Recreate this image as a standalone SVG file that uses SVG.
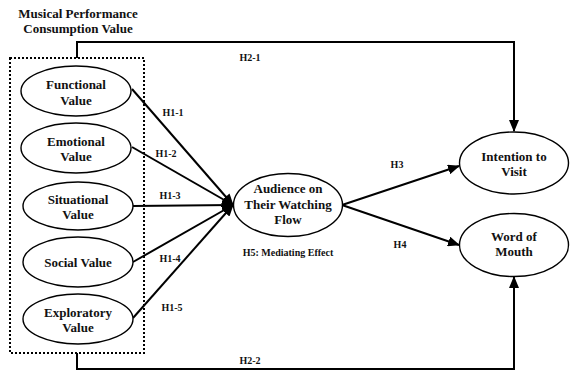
<svg xmlns="http://www.w3.org/2000/svg" width="570" height="371" viewBox="0 0 570 371">
<defs>
<marker id="arr" markerUnits="userSpaceOnUse" markerWidth="12" markerHeight="10" refX="11" refY="5" orient="auto">
<path d="M0,0 L12,5 L0,10 Z" fill="#000"/>
</marker>
<style>
text{font-family:"Liberation Serif","Times New Roman",serif;font-weight:bold;fill:#111;text-anchor:middle}
.n{font-size:13px}
.l{font-size:10px}
ellipse{fill:#fff;stroke:#000;stroke-width:1.4}
.c{fill:none;stroke:#000;stroke-width:2}
.a{marker-end:url(#arr)}
</style>
</defs>
<rect width="570" height="371" fill="#fff"/>
<g id="group-box">
<rect x="10" y="58" width="134" height="295" fill="none" stroke="#000" stroke-width="2" stroke-dasharray="2,2"/>
<text class="n" x="78" y="18">Musical Performance</text>
<text class="n" x="78" y="33">Consumption Value</text>
</g>
<g id="connectors">
<path class="c a" d="M77,58 V42 H514 V131"/>
<path class="c a" d="M77,353 V369 H514 V277"/>
<path class="c a" d="M132,89 L233,205"/>
<path class="c a" d="M132,147 L233,205"/>
<path class="c a" d="M133,206 L233,205"/>
<path class="c a" d="M133,262 L233,205"/>
<path class="c a" d="M133,318 L233,205"/>
<path class="c a" d="M342,205 L459,166"/>
<path class="c a" d="M342,205 L459,245"/>
<text class="l" x="173" y="115.5">H1-1</text>
<text class="l" x="166" y="156.5">H1-2</text>
<text class="l" x="170" y="198.5">H1-3</text>
<text class="l" x="170" y="261.5">H1-4</text>
<text class="l" x="172" y="310.5">H1-5</text>
<text class="l" x="397" y="167.5">H3</text>
<text class="l" x="400" y="247.5">H4</text>
<text class="l" x="250" y="60.5">H2-1</text>
<text class="l" x="250" y="363.5">H2-2</text>
<text class="l" x="288" y="255.5">H5: Mediating Effect</text>
</g>
<g id="functional">
<ellipse cx="76" cy="91" rx="55" ry="25"/>
<text class="n" x="76" y="88.5">Functional</text>
<text class="n" x="76" y="104.5">Value</text>
</g>
<g id="emotional">
<ellipse cx="76" cy="148" rx="55" ry="25"/>
<text class="n" x="76" y="145.5">Emotional</text>
<text class="n" x="76" y="160.5">Value</text>
</g>
<g id="situational">
<ellipse cx="78" cy="206" rx="55" ry="24"/>
<text class="n" x="78" y="203.5">Situational</text>
<text class="n" x="78" y="218.5">Value</text>
</g>
<g id="social">
<ellipse cx="78" cy="262" rx="55" ry="25"/>
<text class="n" x="78" y="266.5">Social Value</text>
</g>
<g id="exploratory">
<ellipse cx="78" cy="319" rx="55" ry="25"/>
<text class="n" x="78" y="316.5">Exploratory</text>
<text class="n" x="78" y="331.5">Value</text>
</g>
<g id="flow">
<ellipse cx="288" cy="205" rx="54.5" ry="31.5"/>
<text class="n" x="288" y="192.5">Audience on</text>
<text class="n" x="288" y="208.5">Their Watching</text>
<text class="n" x="288" y="223.5">Flow</text>
</g>
<g id="intention">
<ellipse cx="514" cy="163" rx="54.5" ry="31"/>
<text class="n" x="514" y="161">Intention to</text>
<text class="n" x="514" y="176">Visit</text>
</g>
<g id="wom">
<ellipse cx="514" cy="245" rx="54.5" ry="31.5"/>
<text class="n" x="514" y="241">Word of</text>
<text class="n" x="514" y="256">Mouth</text>
</g>
</svg>
